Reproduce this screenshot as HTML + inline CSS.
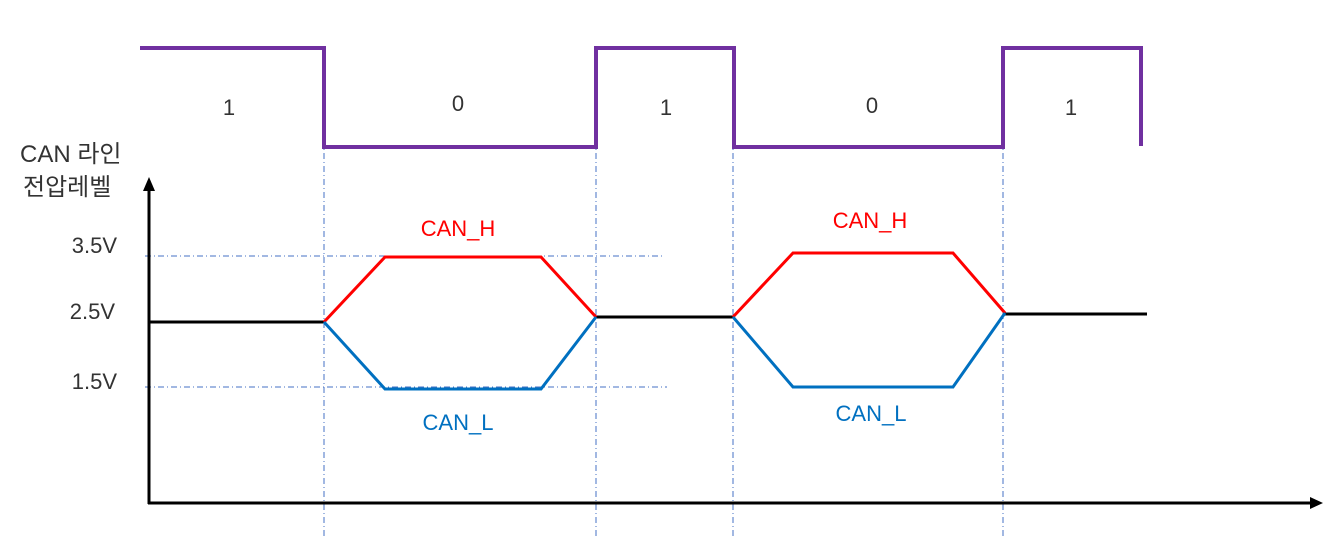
<!DOCTYPE html>
<html><head><meta charset="utf-8"><style>
html,body{margin:0;padding:0;background:#fff;}
svg{display:block;}
text{font-family:"Liberation Sans","Noto Sans CJK KR",sans-serif;}
</style></head><body>
<svg width="1339" height="539" viewBox="0 0 1339 539" xmlns="http://www.w3.org/2000/svg">
<g stroke="#4472c4" stroke-width="1" stroke-dasharray="6,3,1,3" fill="none">
<line x1="324" y1="140" x2="324" y2="539"/>
<line x1="596" y1="140" x2="596" y2="539"/>
<line x1="733" y1="140" x2="733" y2="539"/>
<line x1="1003" y1="140" x2="1003" y2="539"/>
<line x1="145" y1="256" x2="665" y2="256"/>
<line x1="145" y1="387" x2="667" y2="387"/>
</g>
<polyline points="140,48 324,48 324,147 596,147 596,48 734,48 734,147 1003,147 1003,48 1141,48 1141,146" fill="none" stroke="#7030a0" stroke-width="4"/>
<g stroke-width="3" fill="none">
<line x1="150" y1="322" x2="324" y2="322" stroke="#000"/>
<line x1="596" y1="317" x2="733" y2="317" stroke="#000"/>
<line x1="1005" y1="314" x2="1147" y2="314" stroke="#000"/>
<polyline points="324,322 385,257 541,257 596,317" stroke="#ff0000"/>
<polyline points="324,322 385,389 541,389 596,317" stroke="#0070c0"/>
<polyline points="733,317 793,253 953,253 1005,313" stroke="#ff0000"/>
<polyline points="733,317 793,387 953,387 1005,313" stroke="#0070c0"/>
</g>
<line x1="149" y1="504" x2="149" y2="188" stroke="#000" stroke-width="3"/>
<polygon points="149,177 143,191 155,191" fill="#000"/>
<line x1="148" y1="503" x2="1312" y2="503" stroke="#000" stroke-width="3"/>
<polygon points="1323,503 1310,497 1310,509" fill="#000"/>
<g font-size="22" fill="#333" text-anchor="middle">
<text x="229" y="115">1</text>
<text x="458" y="111">0</text>
<text x="666" y="115">1</text>
<text x="872" y="113">0</text>
<text x="1071" y="115">1</text>
</g>
<g font-size="22" fill="#333" text-anchor="end">
<text x="117" y="253">3.5V</text>
<text x="115" y="319">2.5V</text>
<text x="117" y="389">1.5V</text>
</g>
<text x="20" y="162" font-size="24" fill="#333">CAN 라인</text>
<text x="23" y="195" font-size="24" fill="#333">전압레벨</text>
<g font-size="22" text-anchor="middle">
<text x="458" y="236" fill="#ff0000">CAN_H</text>
<text x="870" y="228" fill="#ff0000">CAN_H</text>
<text x="458" y="430" fill="#0070c0">CAN_L</text>
<text x="871" y="421" fill="#0070c0">CAN_L</text>
</g>
</svg>
</body></html>
